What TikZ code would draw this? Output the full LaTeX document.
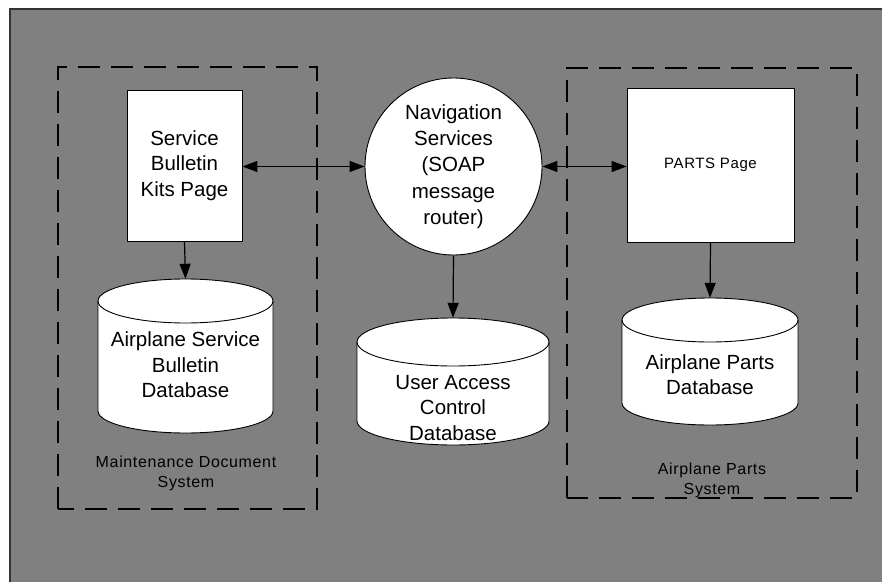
\documentclass[tikz,border=0pt]{standalone}
\usepackage{fontspec}
\setmainfont{Liberation Sans}
\newfontfamily\lblfont[LetterSpace=4]{Liberation Sans}
\usetikzlibrary{arrows.meta}
\definecolor{bg}{HTML}{808080}
\definecolor{frame}{HTML}{333333}
\begin{document}
\begin{tikzpicture}[x=1pt,y=1pt,
  big/.style={font=\fontsize{20.5}{25.5}\selectfont, align=center},
  small/.style={font=\lblfont\fontsize{16}{20}\selectfont, align=center},
  page/.style={draw=black, fill=white, line width=0.9pt, inner sep=0pt},
  group/.style={draw=black, line width=2.8pt, dash pattern=on 22pt off 11pt},
  tip/.tip={Triangle[length=15pt,width=11pt]},
  link/.style={line width=1.2pt, -tip},
  dlink/.style={line width=1.2pt, tip-tip},
  dbbox/.style={inner sep=0pt, minimum width=#1},
  cyl/.style={draw=black, line width=0.9pt},
]
\useasboundingbox (0,0) rectangle (882,582);
% background and frame
\fill[white] (0,0) rectangle (882,582);
\fill[bg] (10,0) rectangle (882,573);
\draw[frame, line width=2pt] (10,0) -- (10,573) -- (882,573);

% groups
\draw[group] (58,73) rectangle (317,515);
\draw[group] (567,84) rectangle (857,514);

% cylinder 1
\fill[white] (98,281) -- (98,171) arc[start angle=180,end angle=360,x radius=87.5,y radius=22] -- (273,281) arc[start angle=0,end angle=180,x radius=87.5,y radius=22] -- cycle;
\draw[cyl] (98,281) -- (98,171) arc[start angle=180,end angle=360,x radius=87.5,y radius=22] -- (273,281);
\draw[cyl] (185.5,281) ellipse[x radius=87.5,y radius=22];
% cylinder 2
\fill[white] (357,240) -- (357,161) arc[start angle=180,end angle=360,x radius=96,y radius=24] -- (549,240) arc[start angle=0,end angle=180,x radius=96,y radius=24] -- cycle;
\draw[cyl] (357,240) -- (357,161) arc[start angle=180,end angle=360,x radius=96,y radius=24] -- (549,240);
\draw[cyl] (453,240) ellipse[x radius=96,y radius=24];
% cylinder 3
\fill[white] (622,262) -- (622,179) arc[start angle=180,end angle=360,x radius=88,y radius=22] -- (798,262) arc[start angle=0,end angle=180,x radius=88,y radius=22] -- cycle;
\draw[cyl] (622,262) -- (622,179) arc[start angle=180,end angle=360,x radius=88,y radius=22] -- (798,262);
\draw[cyl] (710,262) ellipse[x radius=88,y radius=22];

% database bounding nodes
\node[dbbox=175pt, minimum height=154pt] (db1) at (185.5,226) {};
\node[dbbox=192pt, minimum height=127pt] (db2) at (453,200.5) {};
\node[dbbox=176pt, minimum height=127pt] (db3) at (710,220.5) {};

% database texts
\node[big] (db1t) at (185.5,217) {Airplane Service\\Bulletin\\Database};
\node[big] (db2t) at (453,174) {User Access\\Control\\Database};
\node[big] (db3t) at (710,207.5) {Airplane Parts\\Database};

% pages and router
\node[page, big, minimum width=115pt, minimum height=151pt] (sbk) at (184.5,416.5) {Service\\Bulletin\\Kits Page};
\node[page, minimum width=167pt, minimum height=154pt, font=\lblfont\fontsize{15}{20}\selectfont] (parts) at (710.5,417) {PARTS Page};
\node[circle, draw=black, fill=white, line width=0.9pt, minimum size=177pt, inner sep=0pt, font=\fontsize{20.5}{26.3}\selectfont, align=center] (nav) at (453.5,415.5) {Navigation\\Services\\(SOAP\\message\\router)};

% group labels
\node[small] (mds) at (186,109) {Maintenance Document\\System};
\node[small] (aps) at (712,102) {Airplane Parts\\System};

% connectors
\draw[dlink] (sbk.east |- nav.west) -- (nav.west);
\draw[dlink] (nav.east) -- (parts.west |- nav.east);
\draw[link] (sbk.south) -- (db1.north);
\draw[link] (nav.south) -- (db2.north);
\draw[link] (parts.south) -- (db3.north);
\end{tikzpicture}
\end{document}
